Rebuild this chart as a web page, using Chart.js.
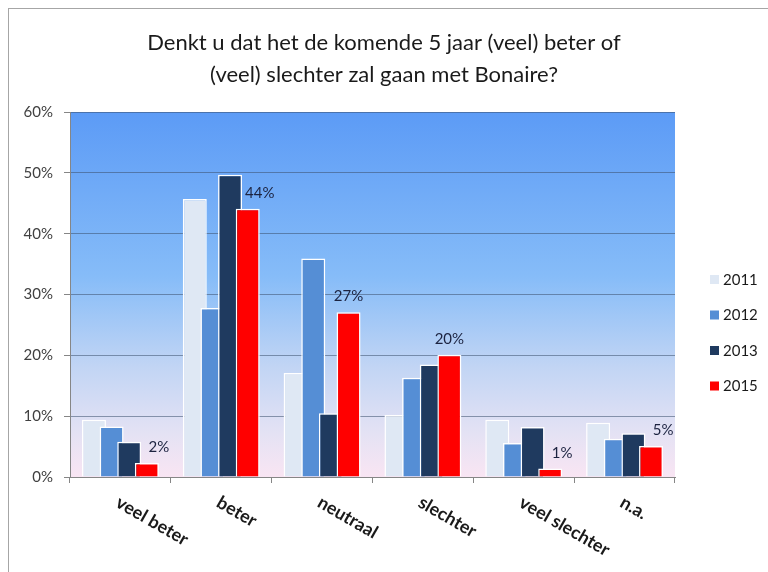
<!DOCTYPE html>
<html>
<head>
<meta charset="utf-8">
<script src="https://cdn.jsdelivr.net/npm/chart.js@4.4.1/dist/chart.umd.min.js"></script>
<style>
  html, body { margin: 0; padding: 0; background: #fff; }
</style>
</head>
<body>
<canvas id="chart" width="768" height="572"></canvas>
<script>
// data (percent)
const categories = ['veel beter', 'beter', 'neutraal', 'slechter', 'veel slechter', 'n.a.'];
const years = ['2011', '2012', '2013', '2015'];
const values2011 = [9.4, 45.7, 17.1, 10.2, 9.4, 8.9];
const values2012 = [8.3, 27.8, 35.9, 16.3, 5.6, 6.3];
const values2013 = [5.8, 49.7, 10.5, 18.5, 8.2, 7.2];
const values2015 = [2.3, 44.1, 27.1, 20.1, 1.4, 5.1];
const yTicks = [0, 10, 20, 30, 40, 50, 60];
const titleLines = ['Denkt u dat het de komende 5 jaar (veel) beter of',
                    '(veel) slechter zal gaan met Bonaire?'];

const colors = ['#dfe8f4', '#558ed5', '#1f3a5f', '#ff0000'];
const FONT = 'Lato, "Open Sans", sans-serif';

// plot background + outer frame
const backgroundPlugin = {
  id: 'background',
  beforeDraw(chart) {
    const { ctx, chartArea: a } = chart;
    ctx.save();
    ctx.fillStyle = '#fff';
    ctx.fillRect(0, 0, chart.width, chart.height);
    ctx.strokeStyle = '#a6a6a6';
    ctx.lineWidth = 1;
    ctx.strokeRect(8.5, 8.5, 900, 700);
    const g = ctx.createLinearGradient(0, a.top, 0, a.bottom);
    g.addColorStop(0, '#5c9bf6');
    g.addColorStop(0.45, '#86bcf8');
    g.addColorStop(0.7, '#c2d5f4');
    g.addColorStop(0.88, '#e4e2f4');
    g.addColorStop(1, '#f9e5f3');
    ctx.fillStyle = g;
    ctx.fillRect(a.left, a.top, a.right - a.left, a.bottom - a.top);
    ctx.restore();
  }
};

// later years drawn on top of earlier ones
const drawOrderPlugin = {
  id: 'drawOrder',
  beforeDatasetsDraw(chart) {
    chart.getSortedVisibleDatasetMetas().forEach(m => m.controller.draw());
    return false;
  }
};

const extrasPlugin = {
  id: 'extras',
  afterDraw(chart) {
    const { ctx, chartArea: a } = chart;
    const xs = chart.scales.x;
    ctx.save();

    // title, centred on the whole picture
    ctx.font = '22px ' + FONT;
    ctx.fillStyle = '#1a1a1a';
    ctx.textAlign = 'center';
    ctx.textBaseline = 'middle';
    titleLines.forEach((t, i) => ctx.fillText(t, 384, 43 + i * 32));

    // value labels on 2015 bars
    const m15 = chart.getDatasetMeta(3);
    ctx.font = '15px ' + FONT;
    ctx.fillStyle = '#1c2340';
    ctx.textAlign = 'center';
    ctx.textBaseline = 'bottom';
    m15.data.forEach((bar, i) => {
      const shift = values2013[i] > values2015[i] ? 12 : 0;
      ctx.fillText(Math.round(values2015[i]) + '%', bar.x + shift, bar.y - 8);
    });

    // rotated category labels
    ctx.font = 'bold 18px ' + FONT;
    ctx.fillStyle = '#1a1a1a';
    ctx.textAlign = 'left';
    ctx.textBaseline = 'middle';
    categories.forEach((c, i) => {
      const x = xs.getPixelForValue(i);
      ctx.save();
      ctx.translate(x - 3, a.bottom + 24);
      ctx.rotate(Math.PI / 6);
      ctx.fillText(c, 0, 0);
      ctx.restore();
    });

    // legend
    ctx.font = '15px ' + FONT;
    ctx.textBaseline = 'middle';
    years.forEach((y, i) => {
      const ly = 280 + i * 35.5;
      ctx.fillStyle = colors[i];
      ctx.fillRect(710, ly - 5, 9, 9);
      ctx.fillStyle = '#1a1a1a';
      ctx.fillText(y, 723, ly);
    });
    ctx.restore();
  }
};

const seriesValues = [values2011, values2012, values2013, values2015];

new Chart('chart', {
  type: 'bar',
  data: {
    labels: categories,
    datasets: years.map((y, i) => ({
      label: y,
      data: seriesValues[i],
      backgroundColor: colors[i],
      borderColor: '#ffffff',
      borderWidth: 1.5,
      borderSkipped: 'bottom',
      categoryPercentage: 0.70,
      barPercentage: 1.36
    }))
  },
  options: {
    responsive: false,
    animation: false,
    layout: { padding: { left: 8, right: 93, top: 112, bottom: 0 } },
    plugins: {
      legend: { display: false },
      tooltip: { enabled: false },
      title: { display: false }
    },
    scales: {
      x: {
        grid: { display: true, drawOnChartArea: false, offset: true, tickLength: 6, tickColor: '#868686' },
        border: { color: '#868686' },
        ticks: { display: false },
        afterFit: s => { s.height = 95; }
      },
      y: {
        min: 0,
        max: 60,
        afterBuildTicks: s => { s.ticks = yTicks.map(v => ({ value: v })); },
        ticks: {
          callback: v => v + '%',
          color: '#404040',
          font: { family: FONT, size: 15 },
          padding: 11
        },
        grid: { color: 'rgba(60,80,110,0.55)', tickLength: 6, tickColor: '#868686' },
        border: { color: '#868686' },
        afterFit: s => { s.width = 62; }
      }
    }
  },
  plugins: [backgroundPlugin, drawOrderPlugin, extrasPlugin]
});
</script>
</body>
</html>
